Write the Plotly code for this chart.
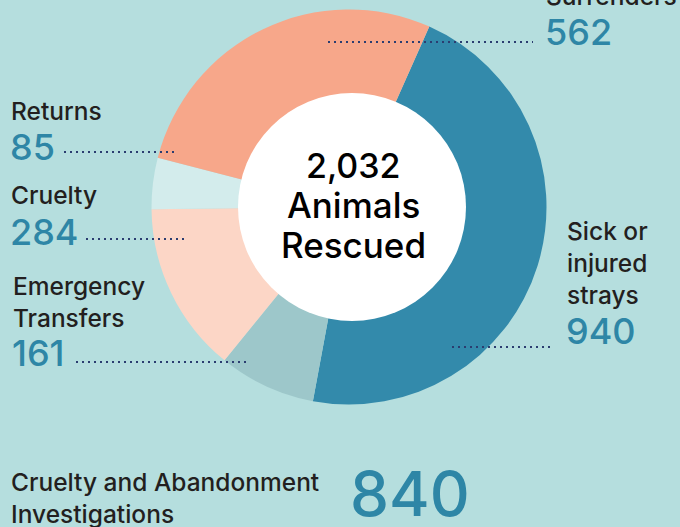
import plotly.graph_objects as go

# ---- data ----
categories = ["Sick or injured strays", "Emergency Transfers", "Cruelty", "Returns", "Surrenders"]
values = [940, 161, 284, 85, 562]
label_lines = [["Sick or", "injured", "strays"], ["Emergency", "Transfers"], ["Cruelty"], ["Returns"], ["Surrenders"]]
center_caption = ["Animals", "Rescued"]
investigations_label = ["Cruelty and Abandonment", "Investigations"]
investigations_value = 840

colors = ["#338aab", "#9dc7ca", "#fcd6c6", "#d3ecec", "#f7a78a"]
BG = "#b5dede"
NUM_COLOR = "#2e86a6"
TXT_COLOR = "#231f20"
DOT_COLOR = "#2b3d70"
W, H = 680, 527
FONT = "Inter"


def px(x):
    return x / W


def py(y):
    return 1 - y / H


fig = go.Figure()
fig.add_trace(go.Pie(
    labels=categories, values=values, sort=False, direction="clockwise",
    rotation=24, hole=0.5, textinfo="none", hoverinfo="label+value",
    marker=dict(colors=colors, line=dict(width=0)),
    domain=dict(x=[px(151.5), px(546.5)], y=[py(404.5), py(9.5)]),
    showlegend=False,
))

shapes = []
# white centre disc
cx, cy, r = 352, 207, 114
shapes.append(dict(type="circle", xref="paper", yref="paper", layer="above",
                   x0=px(cx - r), x1=px(cx + r), y0=py(cy + r), y1=py(cy - r),
                   fillcolor="white", line=dict(width=0)))

annotations = []


def txt(x, y, s, size, color, anchor="left", weight=500):
    annotations.append(dict(x=px(x), y=py(y), xref="paper", yref="paper", text=s,
                            showarrow=False, xanchor=anchor, yanchor="middle",
                            font=dict(family=FONT, size=size, color=color, weight=weight)))


def dots(x0, x1, y):
    shapes.append(dict(type="line", xref="paper", yref="paper", layer="above",
                       x0=px(x0), x1=px(x1), y0=py(y), y1=py(y),
                       line=dict(color=DOT_COLOR, width=2.2, dash="2px,4px")))


# label layout: (label x, first-line y, value y, dotted line x0, x1, y)
layout_pos = {
    "Sick or injured strays": (565, 231, 331, 452, 553, 347),
    "Emergency Transfers": (11, 286, 353, 76, 250, 362),
    "Cruelty": (9, 195, 232, 86, 188, 239),
    "Returns": (9, 111, 147, 64, 177, 152),
    "Surrenders": (544, -4, 32, 328, 533, 42),
}
for cat, lines, val in zip(categories, label_lines, values):
    lx, ly, vy, d0, d1, dy = layout_pos[cat]
    for i, line in enumerate(lines):
        txt(lx, ly + 32 * i, line, 24.5, TXT_COLOR)
    txt(lx - 1, vy, f"{val:,}", 36, NUM_COLOR)
    dots(d0, d1, dy)

total = sum(values)
txt(353, 165, f"{total:,}", 34, "black", "center", 500)
txt(353, 205, center_caption[0], 35, "black", "center", 500)
txt(353, 245, center_caption[1], 35, "black", "center", 500)

txt(9, 482, investigations_label[0], 24.5, TXT_COLOR)
txt(9, 514, investigations_label[1], 24.5, TXT_COLOR)
txt(348, 493, f"{investigations_value:,}", 62, NUM_COLOR)

fig.update_layout(width=W, height=H, margin=dict(l=0, r=0, t=0, b=0),
                  paper_bgcolor=BG, plot_bgcolor=BG,
                  shapes=shapes, annotations=annotations)
fig.write_html("out.html", config={"displayModeBar": False},
               post_script="document.body.style.margin='0';")
